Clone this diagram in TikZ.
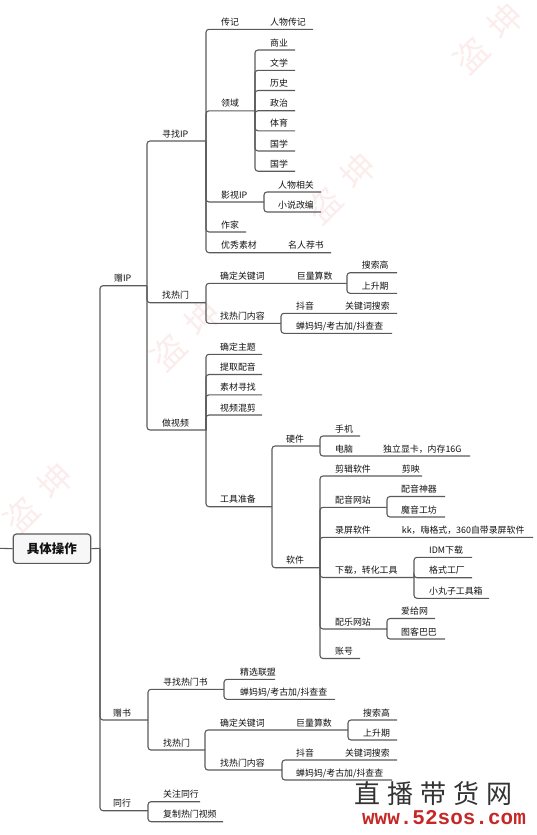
\documentclass[tikz,border=0pt]{standalone}
\usepackage{fontspec}
\setmainfont{Noto Sans CJK SC}
\newfontfamily\monof{Liberation Mono}
\definecolor{ln}{HTML}{5A5A5A}
\definecolor{txt}{HTML}{111111}
\definecolor{wmc}{HTML}{FCEDED}
\definecolor{urlc}{HTML}{C62828}
\tikzset{
  conn/.style={draw=ln, line width=1.1pt, rounded corners=3pt},
  lbl/.style={anchor=base west, inner sep=0pt, font=\fontsize{8.9}{10}\selectfont, text=txt},
  rootbox/.style={draw=ln, line width=1.2pt, rounded corners=3pt, fill=gray!6,
    minimum width=77.4pt, minimum height=29.3pt, inner sep=0pt,
    font=\fontsize{12.5}{14}\selectfont\bfseries, text=txt},
  wm/.style={text=wmc, font=\fontsize{34}{38}\selectfont, rotate=45, inner sep=0pt},
}
% name, parent, text x, line end x, line y, text
\newcommand{\itm}[6]{%
  \node[lbl] (#1) at (#3,#5-4) {#6};
  \coordinate (#1-e) at (#4,#5);
  \draw[conn] (#2-e) |- (#1-e);
}
% same-line text: name, text x, line y, text
\newcommand{\sameline}[4]{\node[lbl] (#1) at (#2,#3-4) {#4};}
\begin{document}
\begin{tikzpicture}[x=1pt,y=-1pt]
\useasboundingbox (0,0) rectangle (537,835);
% watermarks
\node[wm] (wm1) at (488,38) {盗\hspace{14pt}坤};
\node[wm] (wm2) at (341,188) {盗\hspace{14pt}坤};
\node[wm] (wm3) at (185,335) {盗\hspace{14pt}坤};
\node[wm] (wm4) at (38,498) {盗\hspace{14pt}坤};

% root
\node[rootbox] (root) at (52,548.7) {具体操作};
\coordinate (lft) at (0,548.3);
\coordinate (root-e) at (100,548.3);
\draw[conn] (lft) -- (root.west);
\draw[conn] (root.east) -- (root-e);

% level 1
\itm{zIP}{root}{114}{147}{285.7}{赠IP}
\itm{zS}{root}{113}{148}{720}{赠书}
\itm{tH}{root}{113}{148}{810.7}{同行}

% 赠IP
\itm{xIP}{zIP}{162}{206}{141}{寻找IP}
\itm{rm}{zIP}{162}{206}{302.7}{找热门}
\itm{sp}{zIP}{162}{206}{430}{做视频}

% 寻找IP
\itm{zj}{xIP}{221}{313}{29.3}{传记}
\sameline{rwzj}{270}{29.3}{人物传记}
\itm{ly}{xIP}{221}{255}{110.8}{领域}
\itm{ys}{xIP}{221}{264}{202}{影视IP}
\itm{zx}{xIP}{221}{246}{232}{作家}
\itm{yx}{xIP}{221}{331}{252.7}{优秀素材}
\sameline{mrjs}{288}{252.7}{名人荐书}

\itm{sy}{ly}{270}{295}{50}{商业}
\itm{wx}{ly}{270}{295}{70.3}{文学}
\itm{ls}{ly}{270}{295}{90.5}{历史}
\itm{zz}{ly}{270}{295}{110.7}{政治}
\itm{ty}{ly}{270}{295}{130.8}{体育}
\itm{gx}{ly}{270}{295}{151}{国学}
\itm{gxb}{ly}{270}{295}{171.2}{国学}

\itm{rwxg}{ys}{278}{321}{192}{人物相关}
\itm{xsgb}{ys}{278}{321}{212}{小说改编}

% 找热门
\itm{gjc}{rm}{220}{347}{283.3}{确定关键词}
\sameline{jl}{296.7}{283.3}{巨量算数}
\itm{ssg}{gjc}{361.7}{397}{272.7}{搜索高}
\itm{ssq}{gjc}{361.7}{397}{293.3}{上升期}
\itm{rmnr}{rm}{220}{281}{323.3}{找热门内容}
\itm{dy}{rmnr}{296}{397}{313.3}{抖音}
\sameline{gjs}{345}{313.3}{关键词搜索}
\itm{cmm}{rmnr}{296}{392}{333.3}{蝉妈妈/考古加/抖查查}

% 做视频
\itm{qdzt}{sp}{220}{262}{354.3}{确定主题}
\itm{tqpy}{sp}{220}{262}{374.5}{提取配音}
\itm{sczz}{sp}{220}{262}{394.8}{素材寻找}
\itm{sphj}{sp}{220}{262}{415}{视频混剪}
\itm{gjzb}{sp}{220}{272}{506.7}{工具准备}

\itm{yj}{gjzb}{286}{320}{446}{硬件}
\itm{rj}{gjzb}{286}{320}{567.7}{软件}

\itm{sj}{yj}{335}{360}{436}{手机}
\itm{dn}{yj}{335}{470}{456}{电脑}
\sameline{dlxk}{383}{456}{独立显卡，内存16G}

\itm{jjrj}{rj}{335}{422}{476}{剪辑软件}
\sameline{jy}{401.7}{476}{剪映}
\itm{pywz}{rj}{335}{387}{507.3}{配音网站}
\itm{pysq}{pywz}{401}{445}{496.5}{配音神器}
\itm{mygf}{pywz}{401}{445}{517}{魔音工坊}
\itm{lprj}{rj}{335}{533}{537.3}{录屏软件}
\sameline{kk}{401.7}{537.3}{kk，嗨格式，360自带录屏软件}
\itm{xzgj}{rj}{335}{414}{577.5}{下载，转化工具}
\itm{idm}{xzgj}{429}{472}{557.3}{IDM下载}
\itm{gsgc}{xzgj}{429}{472}{577.7}{格式工厂}
\itm{xwz}{xzgj}{429}{489}{598.3}{小丸子工具箱}
\itm{plwz}{rj}{335}{387}{629}{配乐网站}
\itm{agw}{plwz}{401}{435}{618.5}{爱给网}
\itm{tkbb}{plwz}{401}{445}{639}{图客巴巴}
\itm{zh}{rj}{335}{360}{658.5}{账号}

% 赠书
\itm{xrms}{zS}{163}{224}{689.3}{寻找热门书}
\itm{jxlm}{xrms}{240}{275}{679.3}{精选联盟}
\itm{cmmb}{xrms}{240}{335}{699.3}{蝉妈妈/考古加/抖查查}
\itm{rmb}{zS}{163}{205}{750}{找热门}
\itm{gjcb}{rmb}{220}{348}{730}{确定关键词}
\sameline{jlb}{296}{730}{巨量算数}
\itm{ssgb}{gjcb}{363}{397}{720}{搜索高}
\itm{ssqb}{gjcb}{363}{397}{740}{上升期}
\itm{rmnrb}{rmb}{220}{282}{770}{找热门内容}
\itm{dyb}{rmnrb}{296}{397}{760}{抖音}
\sameline{gjsb}{345}{760}{关键词搜索}
\itm{cmmc}{rmnrb}{296}{392}{780}{蝉妈妈/考古加/抖查查}

% 同行
\itm{gzth}{tH}{163}{200}{801.7}{关注同行}
\itm{fzrm}{tH}{163}{223}{821.7}{复制热门视频}

% logo
\node[anchor=west, inner sep=0pt, text=black!80, font=\fontsize{26}{28}\selectfont] (logo) at (354,794)
  {直\hspace{7pt}播\hspace{7pt}带\hspace{7pt}货\hspace{7pt}网};
\node[inner sep=0pt, text=urlc, font=\monof\bfseries\fontsize{21}{24}\selectfont] (url) at (444,818) {www.52sos.com};
\end{tikzpicture}
\end{document}
